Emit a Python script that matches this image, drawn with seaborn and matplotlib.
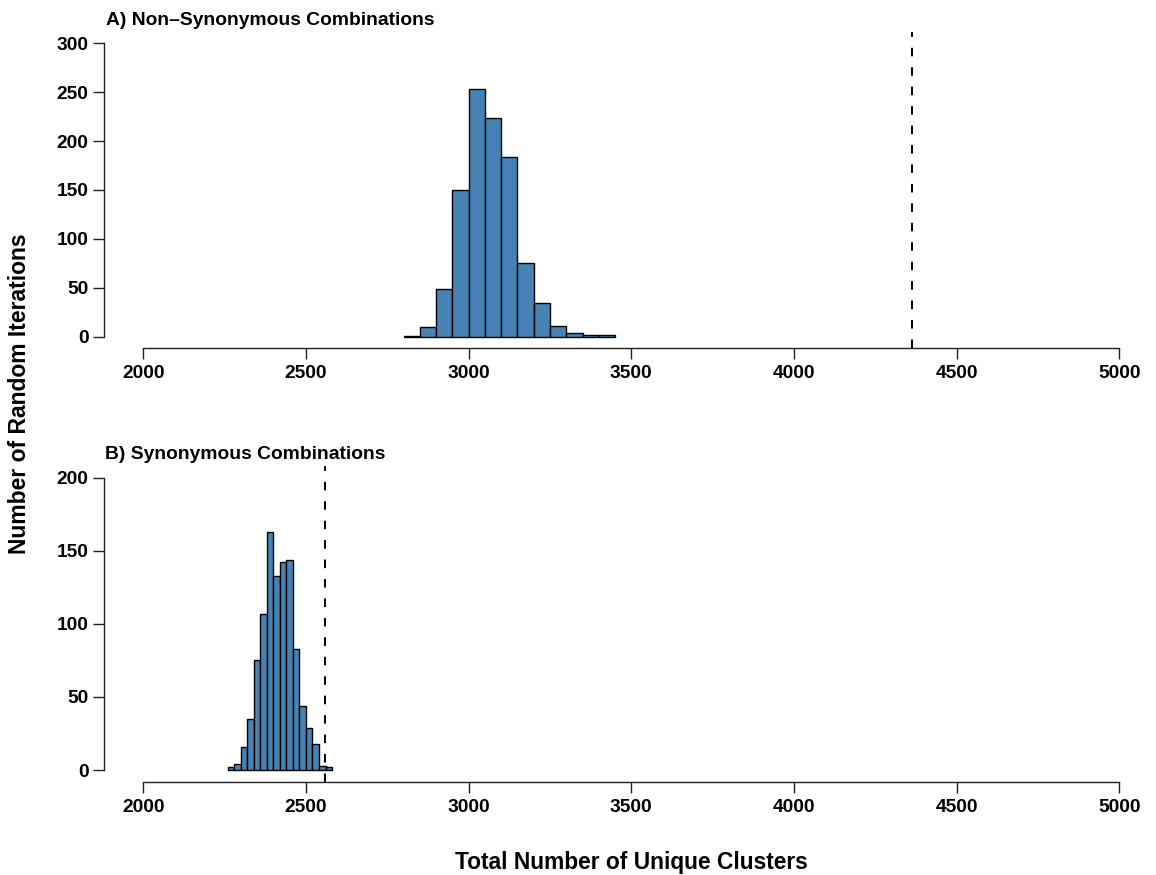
import numpy as np
import pandas as pd
import matplotlib
matplotlib.use("Agg")
import matplotlib.pyplot as plt
import seaborn as sns

sns.set_theme(style="white")
plt.rcParams['font.family'] = ['Liberation Sans', 'DejaVu Sans']
plt.rcParams['font.weight'] = 'bold'
plt.rcParams['text.color'] = 'black'
plt.rcParams['xtick.color'] = 'black'
plt.rcParams['ytick.color'] = 'black'
plt.rcParams['axes.labelcolor'] = 'black'

# Panel A: non-synonymous combinations (bin width 50)
a_bin_left = [2800, 2850, 2900, 2950, 3000, 3050, 3100, 3150, 3200, 3250, 3300, 3350, 3400]
a_counts = [1, 10, 49, 150, 253, 224, 184, 75, 34, 11, 4, 2, 2]
a_observed = 4364

# Panel B: synonymous combinations (bin width 20)
b_bin_left = [2260, 2280, 2300, 2320, 2340, 2360, 2380, 2400, 2420, 2440,
              2460, 2480, 2500, 2520, 2540, 2560]
b_counts = [2, 4, 16, 35, 75, 107, 163, 133, 142, 144, 83, 44, 29, 18, 3, 2]
b_observed = 2558

x_ticks = [2000, 2500, 3000, 3500, 4000, 4500, 5000]
a_yticks = [0, 50, 100, 150, 200, 250, 300]
b_yticks = [0, 50, 100, 150, 200]

titles = ["A) Non\u2013Synonymous Combinations", "B) Synonymous Combinations"]
xlabel = "Total Number of Unique Clusters"
ylabel = "Number of Random Iterations"

fig = plt.figure(figsize=(11.56, 8.75), dpi=100)
axA = fig.add_axes([104.3 / 1156, (875 - 348.4) / 875, 1054 / 1156, 316.8 / 875])
axB = fig.add_axes([104.3 / 1156, (875 - 781.7) / 875, 1054 / 1156, 315.7 / 875])

panels = [
    (axA, a_bin_left, a_counts, 50, a_observed, a_yticks),
    (axB, b_bin_left, b_counts, 20, b_observed, b_yticks),
]

for ax, lefts, counts, width, obs, yt in panels:
    edges = [float(v) for v in lefts] + [float(lefts[-1] + width)]
    df = pd.DataFrame({"x": [v + width / 2 for v in lefts],
                       "w": [float(c) for c in counts]})
    sns.histplot(data=df, x="x", weights="w", bins=edges, color="#4682B4",
                 edgecolor="black", linewidth=1.0, alpha=1.0, ax=ax)
    ax.axvline(obs, color="black", linewidth=1.4, linestyle=(0, (4.4, 5.6)))
    ymax = yt[-1]
    pad = ymax * 0.04
    ax.set_xlim(1880, 5120)
    ax.set_ylim(-pad, ymax + pad)
    ax.set_xticks(x_ticks)
    ax.set_xticklabels([str(t) for t in x_ticks])
    ax.set_yticks(yt)
    ax.set_yticklabels([str(t) for t in yt])
    ax.set_xlabel("")
    ax.set_ylabel("")
    for s in ["top", "right"]:
        ax.spines[s].set_visible(False)
    ax.spines["left"].set_bounds(0, ymax)
    ax.spines["bottom"].set_bounds(2000, 5000)
    for s in ["left", "bottom"]:
        ax.spines[s].set_linewidth(1.0)
        ax.spines[s].set_color("#222222")
    ax.tick_params(axis="both", which="major", direction="out", length=7.8,
                   width=1.0, color="#222222", labelcolor="black",
                   labelsize=13.8, pad=3.5, left=True, bottom=True)
    ax.tick_params(axis="x", pad=4.5)
    for lab in ax.get_xticklabels() + ax.get_yticklabels():
        lab.set_fontweight("bold")
    ax.set_facecolor("none")

fig.text(106 / 1156, 1 - 20.7 / 875, titles[0], ha="left", va="center",
         fontsize=13.9, fontweight="bold", color="black")
fig.text(105 / 1156, 1 - 454 / 875, titles[1], ha="left", va="center",
         fontsize=13.9, fontweight="bold", color="black")
fig.text(631 / 1156, 1 - 862 / 875, xlabel, ha="center", va="center",
         fontsize=16.4, fontweight="bold", color="black")
fig.text(20 / 1156, 1 - 394 / 875, ylabel, ha="center", va="center",
         rotation=90, fontsize=16.5, fontweight="bold", color="black")

fig.savefig("out.png", dpi=100)
